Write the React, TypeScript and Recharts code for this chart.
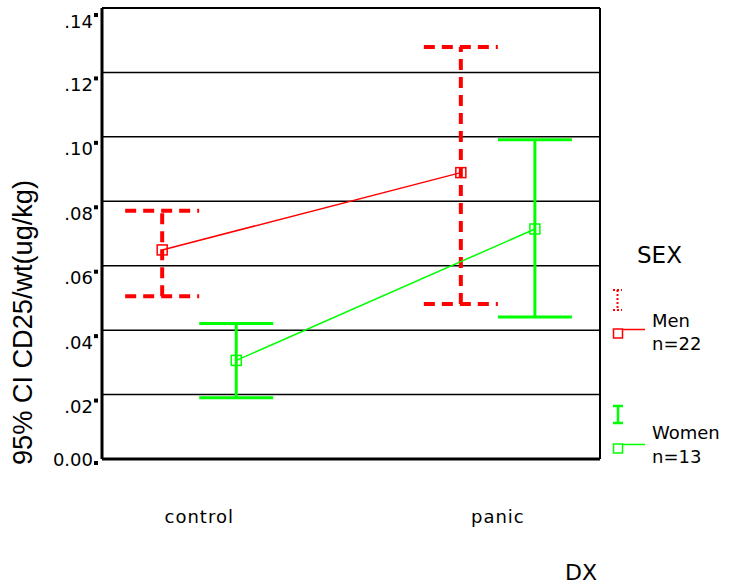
// Error-bar chart: 95% CI of CD25/wt by diagnosis, split by sex.
import React from "react";
import {
  ComposedChart, Scatter, ErrorBar, XAxis, YAxis, CartesianGrid, ReferenceLine,
} from "recharts";

const CATEGORIES = ["control", "panic"];
const Y_TICKS = [0, 0.02, 0.04, 0.06, 0.08, 0.1, 0.12, 0.14];

const MEN_MEAN = [0.0649, 0.0889];
const MEN_LOW = [0.0505, 0.0481];
const MEN_HIGH = [0.0771, 0.1279];

const WOMEN_MEAN = [0.0306, 0.0714];
const WOMEN_LOW = [0.019, 0.0441];
const WOMEN_HIGH = [0.0421, 0.0991];

const RED = "#ff0000";
const GREEN = "#00ff00";
const FONT = "'DejaVu Sans', sans-serif";

// horizontal dodge of the two groups around each category (in category units)
const DODGE = 0.124;
const X_MIN = -0.3255;
const X_MAX = 1.342;

function rows(mean: number[], low: number[], high: number[], shift: number) {
  return CATEGORIES.map((_, i) => ({
    x: i + shift,
    y: mean[i],
    err: [mean[i] - low[i], high[i] - mean[i]],
  }));
}

const menData = rows(MEN_MEAN, MEN_LOW, MEN_HIGH, -DODGE);
const womenData = rows(WOMEN_MEAN, WOMEN_LOW, WOMEN_HIGH, DODGE);

const fmtY = (v: number) => (v === 0 ? "0.00" : v.toFixed(2).replace(/^0/, ""));

function YTick(props: any) {
  const { x, y, payload } = props;
  const zero = payload.value === 0;
  return (
    <g>
      <rect x={x - 8} y={y + (zero ? 2 : 4)} width={4} height={4} fill="#000" />
      <text x={x - 9} y={y + (zero ? 7 : 18.5)} textAnchor="end" fontSize={18} fontFamily={FONT} fill="#000">
        {fmtY(payload.value)}
      </text>
    </g>
  );
}

function XTick(props: any) {
  const { x, y, payload } = props;
  return (
    <text x={x} y={y + 64} textAnchor="middle" fontSize={18} fontFamily={FONT} fill="#000" letterSpacing={1}>
      {CATEGORIES[payload.value]}
    </text>
  );
}

const square = (color: string) => (p: any) => (
  <rect x={p.cx - 5} y={p.cy - 5} width={10} height={10} fill="none" stroke={color} strokeWidth={1.5} />
);

function LegendOverlay() {
  return (
    <svg width={730} height={586} style={{ position: "absolute", left: 0, top: 0, pointerEvents: "none" }}>
      <text x={637} y={263} fontSize={23} fontFamily={FONT}>SEX</text>
      {/* Men */}
      <g stroke={RED} strokeWidth={2} strokeDasharray="2 2">
        <line x1={613} y1={290} x2={622} y2={290} />
        <line x1={613} y1={310} x2={622} y2={310} />
        <line x1={617.5} y1={290} x2={617.5} y2={310} />
      </g>
      <rect x={613.5} y={329} width={9} height={9} fill="none" stroke={RED} strokeWidth={1.5} />
      <line x1={623} y1={329.5} x2={645} y2={329.5} stroke={RED} strokeWidth={1.5} />
      <text x={652} y={327} fontSize={18} fontFamily={FONT}>Men</text>
      <text x={652} y={350} fontSize={18} fontFamily={FONT}>n=22</text>
      {/* Women */}
      <g stroke={GREEN} strokeWidth={2.5}>
        <line x1={613} y1={406} x2={623} y2={406} />
        <line x1={613} y1={423} x2={623} y2={423} />
        <line x1={618} y1={406} x2={618} y2={423} />
      </g>
      <rect x={613.5} y={444} width={9} height={9} fill="none" stroke={GREEN} strokeWidth={1.5} />
      <line x1={623} y1={444.5} x2={645} y2={444.5} stroke={GREEN} strokeWidth={1.5} />
      <text x={652} y={439} fontSize={18} fontFamily={FONT}>Women</text>
      <text x={652} y={463} fontSize={18} fontFamily={FONT}>n=13</text>
    </svg>
  );
}

export default function App() {
  return (
    <div style={{ position: "absolute", left: 0, top: 0, width: 730, height: 586, background: "#fff" }}>
      <ComposedChart width={730} height={586} margin={{ top: 8, right: 130, bottom: 27, left: 7 }}>
        <CartesianGrid horizontal vertical={false} stroke="#000" strokeWidth={1.5} />
        <XAxis
          type="number"
          dataKey="x"
          domain={[X_MIN, X_MAX]}
          ticks={[0, 1]}
          allowDataOverflow
          height={100}
          tickSize={0}
          tickMargin={0}
          tick={<XTick />}
          axisLine={{ stroke: "#000", strokeWidth: 3 }}
          tickLine={false}
          label={{
            content: () => (
              <text x={565} y={580} fontSize={22} fontFamily={FONT} fill="#000">DX</text>
            ),
          }}
        />
        <YAxis
          type="number"
          dataKey="y"
          domain={[0, 0.14]}
          ticks={Y_TICKS}
          width={95}
          tickSize={0}
          tickMargin={0}
          tick={<YTick />}
          axisLine={{ stroke: "#000", strokeWidth: 3 }}
          tickLine={false}
          label={{
            content: () => (
              <text
                transform="translate(32, 322.5) rotate(-90)"
                textAnchor="middle"
                fontSize={27}
                fontFamily="'Liberation Sans', Arial, sans-serif"
                textLength={285}
                lengthAdjust="spacingAndGlyphs"
                fill="#000"
              >
                95% CI CD25/wt(ug/kg)
              </text>
            ),
          }}
        />
        <ReferenceLine y={0.14} stroke="#000" strokeWidth={2} />
        <ReferenceLine x={X_MAX} stroke="#000" strokeWidth={2} />
        <Scatter
          name="Men"
          data={menData}
          dataKey="y"
          shape={square(RED)}
          line={{ stroke: RED, strokeWidth: 1.5 }}
          isAnimationActive={false}
        >
          <ErrorBar dataKey="err" direction="y" width={37} stroke={RED} strokeWidth={4} strokeDasharray="11 7" />
        </Scatter>
        <Scatter
          name="Women"
          data={womenData}
          dataKey="y"
          shape={square(GREEN)}
          line={{ stroke: GREEN, strokeWidth: 1.5 }}
          isAnimationActive={false}
        >
          <ErrorBar dataKey="err" direction="y" width={37} stroke={GREEN} strokeWidth={3} />
        </Scatter>
      </ComposedChart>
      <LegendOverlay />
    </div>
  );
}
